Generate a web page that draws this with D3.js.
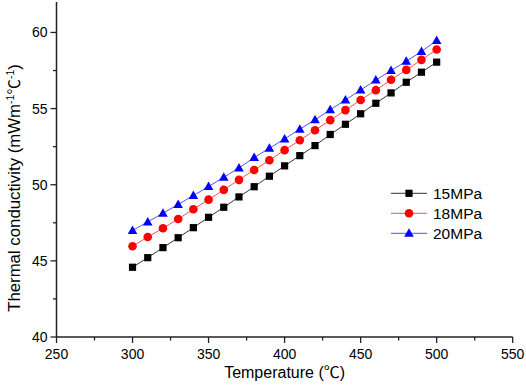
<!DOCTYPE html>
<html><head><meta charset="utf-8">
<script src="https://cdn.jsdelivr.net/npm/d3@7"></script>
<style>body{margin:0;background:#fff}svg{display:block}text{font-family:Arial,"Liberation Sans",sans-serif}.cjk{font-family:"Noto Sans CJK SC",sans-serif}</style>
</head><body><svg id="c" width="526" height="392"></svg>
<script>
const temps = [300,310,320,330,340,350,360,370,380,390,400,410,420,430,440,450,460,470,480,490,500];
const s15 = [44.58,45.21,45.87,46.52,47.18,47.86,48.52,49.2,49.87,50.56,51.24,51.91,52.57,53.3,53.97,54.66,55.35,56.03,56.73,57.39,58.05];
const s18 = [45.96,46.57,47.14,47.75,48.39,49.02,49.66,50.32,50.97,51.61,52.27,52.92,53.58,54.24,54.9,55.56,56.21,56.89,57.54,58.2,58.88];
const s20 = [47.0,47.56,48.13,48.7,49.29,49.88,50.49,51.1,51.78,52.4,53.01,53.65,54.26,54.92,55.57,56.22,56.87,57.5,58.11,58.75,59.47];
const seriesNames = ["15MPa","18MPa","20MPa"];
const xTicks = [250,300,350,400,450,500,550];
const yTicks = [40,45,50,55,60];

const series = [
  {name: seriesNames[0], vals: s15, color: "#000000", line: "#333333", shape: "square"},
  {name: seriesNames[1], vals: s18, color: "#ff0000", line: "#ff5050", shape: "circle"},
  {name: seriesNames[2], vals: s20, color: "#0000ff", line: "#5050ff", shape: "triangle"}
];

const svg = d3.select("#c");
const L = 56.5, R = 512.7, T = 2, B = 337;
const x = d3.scaleLinear().domain([250,550]).range([L,R]);
const y = d3.scaleLinear().domain([40,62]).range([B,T]);

const ax = svg.append("g").attr("stroke","#222").attr("stroke-width",1.5);
ax.append("line").attr("x1",L).attr("x2",R).attr("y1",B).attr("y2",B);
ax.append("line").attr("x1",L).attr("x2",L).attr("y1",B).attr("y2",T);
d3.range(250,551,25).forEach(v=>{
  const major = v%50===0;
  ax.append("line").attr("x1",x(v)).attr("x2",x(v)).attr("y1",B).attr("y2",B+(major?6:3.5)).attr("stroke-width",1.3);
});
d3.range(40,62.1,2.5).forEach(v=>{
  const major = v%5===0;
  ax.append("line").attr("y1",y(v)).attr("y2",y(v)).attr("x1",L).attr("x2",L-(major?6:3.5)).attr("stroke-width",1.3);
});
svg.append("g").selectAll("text").data(xTicks).join("text")
  .attr("x",d=>x(d)).attr("y",B+22).attr("text-anchor","middle").attr("font-size",14).attr("fill","#000").text(d=>d);
svg.append("g").selectAll("text").data(yTicks).join("text")
  .attr("x",L-9).attr("y",d=>y(d)+5).attr("text-anchor","end").attr("font-size",14).attr("fill","#000").text(d=>d);

const xt = svg.append("text").attr("x",(L+R)/2).attr("y",378).attr("text-anchor","middle").attr("font-size",16);
xt.append("tspan").text("Temperature (");
xt.append("tspan").attr("class","cjk").text("℃");
xt.append("tspan").text(")");
const yt = svg.append("text").attr("transform","translate(20,188) rotate(-90)").attr("text-anchor","middle").attr("font-size",16.8);
yt.append("tspan").text("Thermal conductivity (mWm");
yt.append("tspan").attr("font-size",10.5).attr("dy",-6).text("-1");
yt.append("tspan").attr("class","cjk").attr("font-size",15.5).attr("dy",6).text("℃");
yt.append("tspan").attr("font-size",10.5).attr("dy",-6).text("-1");
yt.append("tspan").attr("dy",6).text(")");

function marker(g, shape, cx, cy, color){
  if(shape==="square") g.append("rect").attr("x",cx-3.6).attr("y",cy-3.6).attr("width",7.2).attr("height",7.2).attr("fill",color);
  else if(shape==="circle") g.append("circle").attr("cx",cx).attr("cy",cy).attr("r",4.3).attr("fill",color);
  else g.append("path").attr("d",`M${cx},${cy-5} L${cx+4.8},${cy+3.5} L${cx-4.8},${cy+3.5}Z`).attr("fill",color);
}

const line = d3.line().x((d,i)=>x(temps[i])).y(d=>y(d));
series.forEach(s=>{
  svg.append("path").attr("d",line(s.vals)).attr("fill","none").attr("stroke",s.line).attr("stroke-width",1);
  const g = svg.append("g");
  s.vals.forEach((v,i)=>marker(g,s.shape,x(temps[i]),y(v),s.color));
});

series.forEach((s,i)=>{
  const ly = 193.3 + i*20;
  svg.append("line").attr("x1",391).attr("x2",427).attr("y1",ly).attr("y2",ly).attr("stroke",s.line).attr("stroke-width",1);
  marker(svg.append("g"), s.shape, 409, ly, s.color);
  svg.append("text").attr("x",433).attr("y",ly+5.5).attr("font-size",15.5).text(s.name);
});
</script></body></html>
